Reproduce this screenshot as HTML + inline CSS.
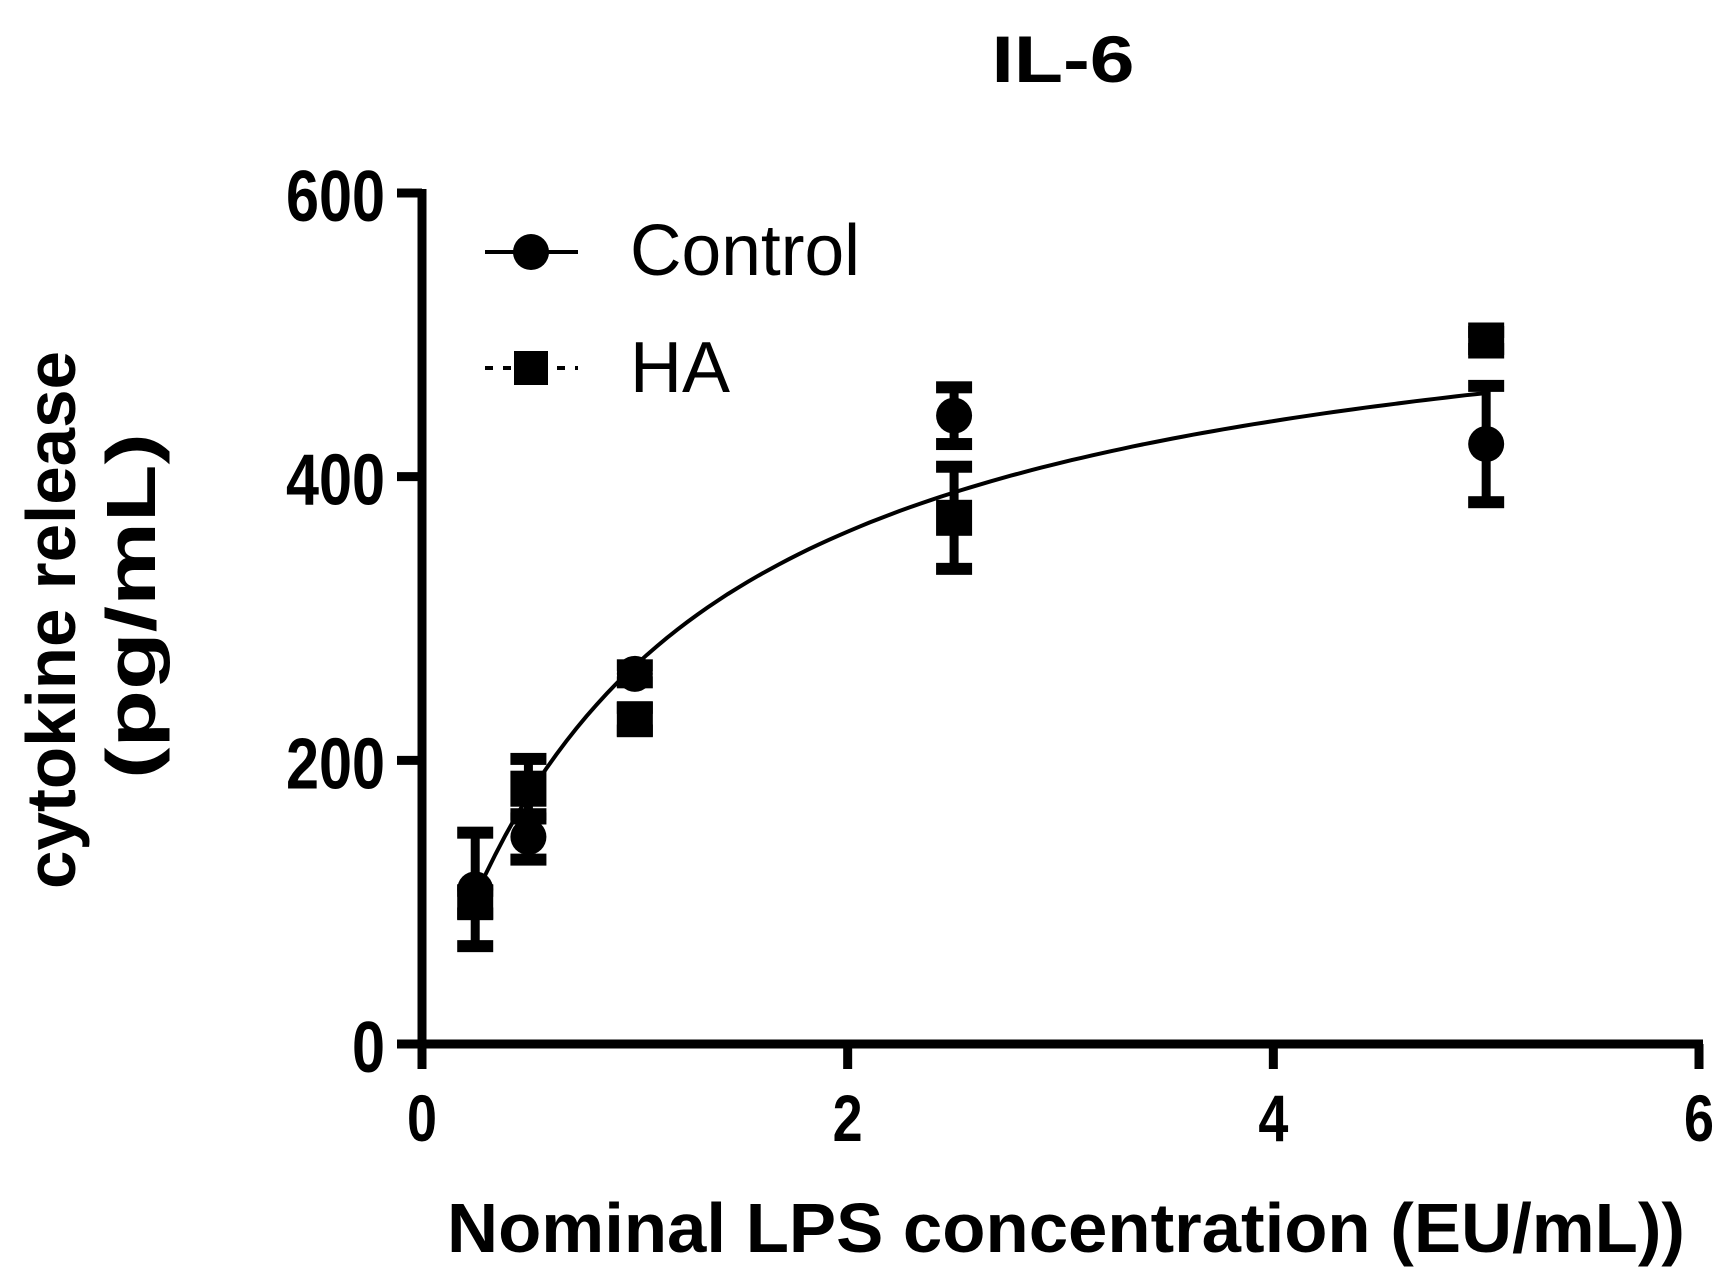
<!DOCTYPE html>
<html><head><meta charset="utf-8"><style>
html,body{margin:0;padding:0;background:#fff}
svg{display:block}
text{font-family:"Liberation Sans",Arial,sans-serif;fill:#000}
</style></head><body>
<svg id="chart" width="1723" height="1281" viewBox="0 0 1723 1281">
<text x="1063" y="82" font-size="66" font-weight="bold" text-anchor="middle" textLength="143" lengthAdjust="spacingAndGlyphs">IL-6</text>
<g id="axes"></g>
<g id="curve"></g>
<g id="marks"></g>
<g>
  <g>
    <line x1="485" y1="252" x2="578" y2="252" stroke="#000" stroke-width="4"/>
    <circle cx="531" cy="252" r="18" fill="#000"/>
    <text x="630" y="275" font-size="72" textLength="230" lengthAdjust="spacingAndGlyphs">Control</text>
  </g>
  <g>
    <line x1="485" y1="368" x2="578" y2="368" stroke="#000" stroke-width="4" stroke-dasharray="8,10"/>
    <rect x="514" y="351" width="34" height="34" fill="#000"/>
    <text x="630" y="392" font-size="72">HA</text>
  </g>
</g>
<text x="447" y="1252" font-size="70" font-weight="bold" textLength="1238" lengthAdjust="spacingAndGlyphs">Nominal LPS concentration (EU/mL))</text>
<text transform="translate(75,620) rotate(-90)" font-size="70" font-weight="bold" text-anchor="middle" textLength="538" lengthAdjust="spacingAndGlyphs">cytokine release</text>
<text transform="translate(155,606) rotate(-90)" font-size="70" font-weight="bold" text-anchor="middle" textLength="346" lengthAdjust="spacingAndGlyphs">(pg/mL)</text>
</svg>
<script>
const xCats = [0.25, 0.5, 1, 2.5, 5];
const controlMean = [109, 146, 261, 443, 423];
const controlErr = [40, 16, 6, 20, 41];
const haMean = [100, 180, 229, 371, 496];
const haErr = [8, 21, 8, 36, 6];
const xTicks = [0, 2, 4, 6];
const yTicks = [0, 200, 400, 600];
const fitBmax = [560];
const fitKd = [1.1];

const NS = 'http://www.w3.org/2000/svg';
const X0 = 422, X1 = 1699, Y0 = 1044, Y1 = 193;
function sx(v){ return X0 + (v - 0) / 6 * (X1 - X0); }
function sy(v){ return Y0 - (v - 0) / 600 * (Y0 - Y1); }
function mk(tag, attrs, parent){
  const el = document.createElementNS(NS, tag);
  for (const k in attrs) el.setAttribute(k, attrs[k]);
  parent.appendChild(el);
  return el;
}
const axes = document.getElementById('axes');
let el;
el = mk('line', {x1: X0, y1: Y1 - 4, x2: X0, y2: Y0 + 4, stroke: '#000', 'stroke-width': 9}, axes);


el = mk('line', {x1: X0 - 4, y1: Y0, x2: X1 + 4, y2: Y0, stroke: '#000', 'stroke-width': 9}, axes);


yTicks.forEach(t => {
  const y = sy(t);
  const tk = mk('line', {x1: 397, y1: y, x2: X0, y2: y, stroke: '#000', 'stroke-width': 9}, axes);
  
  
  const s = String(t);
  const lb = mk('text', {x: 385, y: y + 28, 'font-size': 72, 'font-weight': 'bold', 'text-anchor': 'end', textLength: s.length * 33, lengthAdjust: 'spacingAndGlyphs'}, axes);
  lb.textContent = s;
  
  
});
xTicks.forEach(t => {
  const x = sx(t);
  const tk = mk('line', {x1: x, y1: Y0, x2: x, y2: 1069, stroke: '#000', 'stroke-width': 9}, axes);
  
  
  const lb = mk('text', {x: x, y: 1141, 'font-size': 66, 'font-weight': 'bold', 'text-anchor': 'middle', textLength: 30, lengthAdjust: 'spacingAndGlyphs'}, axes);
  lb.textContent = String(t);
  
  
});
const cg = document.getElementById('curve');
let d = '';
for (let i = 0; i <= 100; i++){
  const xv = xCats[0] + (xCats[xCats.length-1] - xCats[0]) * i / 100;
  const yv = fitBmax[0] * xv / (fitKd[0] + xv);
  d += (i ? 'L' : 'M') + sx(xv).toFixed(1) + ',' + sy(yv).toFixed(1);
}
el = mk('path', {d: d, fill: 'none', stroke: '#000', 'stroke-width': 4}, cg);


const mg = document.getElementById('marks');
function errbar(x, m, e, name){
  const g = mk('g', {}, mg);
  
  
  const yt = sy(m + e), yb = sy(m - e);
  mk('line', {x1: x, y1: yt, x2: x, y2: yb, stroke: '#000', 'stroke-width': 9}, g);
  mk('rect', {x: x - 18, y: yt - 6, width: 36, height: 12, fill: '#000'}, g);
  mk('rect', {x: x - 18, y: yb - 6, width: 36, height: 12, fill: '#000'}, g);
}
xCats.forEach((c, i) => {
  const x = sx(c);
  errbar(x, controlMean[i], controlErr[i], 'control-error-bar');
  errbar(x, haMean[i], haErr[i], 'ha-error-bar');
  const sq = mk('rect', {x: x - 18, y: sy(haMean[i]) - 18, width: 36, height: 36, fill: '#000'}, mg);
  
  
  const ci = mk('circle', {cx: x, cy: sy(controlMean[i]), r: 18, fill: '#000'}, mg);
  
  
});
</script>
</body></html>
